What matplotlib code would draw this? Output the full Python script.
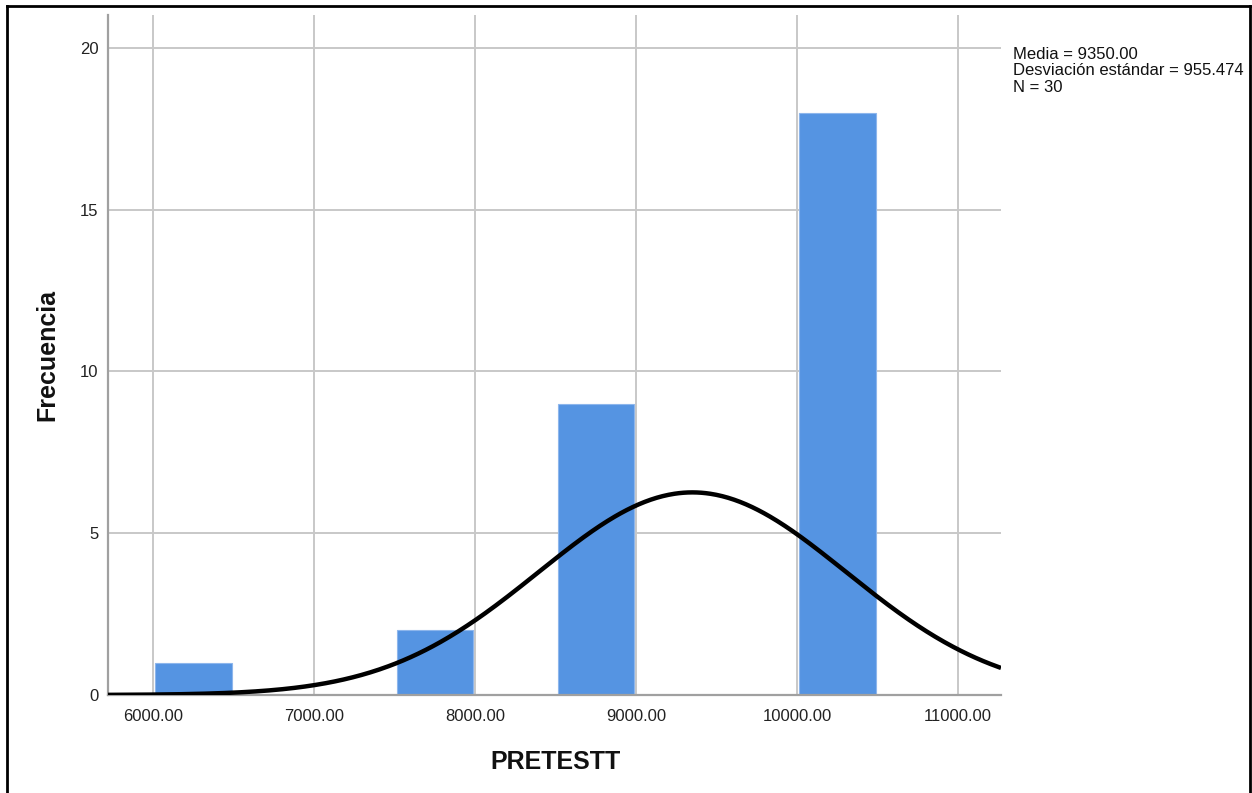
import numpy as np
import matplotlib
matplotlib.use("Agg")
import matplotlib.pyplot as plt
from matplotlib.lines import Line2D

plt.rcParams['font.family'] = ['Liberation Sans', 'DejaVu Sans']

# Histogram of PRETESTT (bins of width 500 starting at 6000)
bin_starts = [6000, 6500, 7000, 7500, 8000, 8500, 9000, 9500, 10000]
counts = [1, 0, 0, 2, 0, 9, 0, 0, 18]
bin_width = 500

mean = 9350.00
std = 955.474
n = 30

x_ticks = [6000, 7000, 8000, 9000, 10000, 11000]
y_ticks = [0, 5, 10, 15, 20]

W, H = 1252, 793
fig = plt.figure(figsize=(W / 100, H / 100), dpi=100)
fig.patch.set_facecolor('white')

def fx(px):
    return px / W

def fy(py):
    return 1 - py / H

ax = fig.add_axes([fx(108), fy(695), fx(1001) - fx(108), fy(15) - fy(695)])
ax.set_xlim(5720, 11267)
ax.set_ylim(0, 21.02)

# grid
ax.set_axisbelow(True)
ax.grid(True, color='#c8c8c8', linewidth=1.4)

# bars (slightly inset inside each bin)
ax.bar([b + 15 for b in bin_starts], counts, width=bin_width - 25, align='edge',
       color='#5594e2', edgecolor='#8db6ec', linewidth=0.8, zorder=2)

# fitted normal curve scaled to frequency
xs = np.linspace(5720, 11267, 600)
ys = n * bin_width * np.exp(-0.5 * ((xs - mean) / std) ** 2) / (std * np.sqrt(2 * np.pi))
ax.plot(xs, ys, color='black', linewidth=3.2, zorder=3, solid_capstyle='butt')

ax.set_xticks(x_ticks)
ax.set_xticklabels([f"{v:.2f}" for v in x_ticks])
ax.set_yticks(y_ticks)
ax.tick_params(axis='both', length=0, labelsize=12, colors='#222222')
ax.tick_params(axis='x', pad=10)
ax.tick_params(axis='y', pad=7)

for side in ['top', 'right']:
    ax.spines[side].set_visible(False)
for side in ['left', 'bottom']:
    ax.spines[side].set_color('#a0a0a0')
    ax.spines[side].set_linewidth(1.6)

fig.text(fx(47), fy(355), 'Frecuencia', rotation=90, fontsize=18, fontweight='bold',
         ha='center', va='center', color='#111111')
fig.text(fx(555), fy(762), 'PRETESTT', fontsize=18, fontweight='bold',
         ha='center', va='center', color='#111111')

stats = f"Media = {mean:.2f}\nDesviación estándar = {std:.3f}\nN = {n}"
fig.text(fx(1013), fy(47), stats, fontsize=12, ha='left', va='top',
         linespacing=1.12, color='#111111')

# outer frame
frame_kw = dict(color='black', linewidth=2, transform=fig.transFigure)
fig.add_artist(Line2D([fx(7), fx(7)], [fy(6), 0], **frame_kw))
fig.add_artist(Line2D([fx(7), fx(1250)], [fy(6), fy(6)], **frame_kw))
fig.add_artist(Line2D([fx(1250), fx(1250)], [fy(6), 0], **frame_kw))

fig.savefig('out.png', dpi=100)
